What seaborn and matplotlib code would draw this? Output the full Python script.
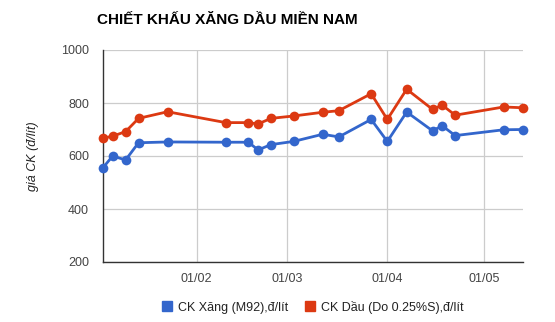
import matplotlib
matplotlib.use("Agg")
import matplotlib.pyplot as plt
import matplotlib.dates as mdates
from matplotlib.patches import Patch
import seaborn as sns
import pandas as pd

dates = ["2013-01-03", "2013-01-06", "2013-01-10", "2013-01-14", "2013-01-23",
         "2013-02-10", "2013-02-17", "2013-02-20", "2013-02-24", "2013-03-03",
         "2013-03-12", "2013-03-17", "2013-03-27", "2013-04-01", "2013-04-07",
         "2013-04-15", "2013-04-18", "2013-04-22", "2013-05-07", "2013-05-13"]
xang = [556, 600, 585, 650, 653, 652, 652, 623, 643, 655,
        682, 672, 738, 655, 766, 695, 714, 677, 699, 700]
dau = [667, 675, 692, 742, 767, 726, 726, 721, 742, 751,
       765, 771, 835, 738, 852, 776, 792, 754, 785, 782]
series_names = ["CK Xăng (M92),đ/lít", "CK Dầu (Do 0.25%S),đ/lít"]
colors = ["#3366cc", "#dc3912"]
title = "CHIẾT KHẤU XĂNG DẦU MIỀN NAM"
ylabel = "giá CK (đ/lít)"

df = pd.concat([
    pd.DataFrame({"date": pd.to_datetime(dates), "value": xang, "series": series_names[0]}),
    pd.DataFrame({"date": pd.to_datetime(dates), "value": dau, "series": series_names[1]}),
])

sns.set_style("white")
plt.rcParams["font.family"] = ["Liberation Sans", "DejaVu Sans"]

fig = plt.figure(figsize=(5.55, 3.22), dpi=100)
ax = fig.add_axes([103/555, 1-262/322, (523-103)/555, (262-50)/322])

sns.lineplot(data=df, x="date", y="value", hue="series", palette=colors,
             marker="o", markersize=7, markeredgewidth=0, linewidth=2,
             ax=ax, legend=False, clip_on=False, zorder=3)

ax.set_xlim(pd.Timestamp(dates[0]), pd.Timestamp(dates[-1]))
ax.set_ylim(200, 1000)
ax.set_yticks([200, 400, 600, 800, 1000])
ax.xaxis.set_major_locator(mdates.MonthLocator(bymonthday=1))
ax.xaxis.set_major_formatter(mdates.DateFormatter("%d/%m"))
ax.grid(True, color="#cccccc", linewidth=0.9)
for s in ["top", "right"]:
    ax.spines[s].set_visible(False)
for s in ["left", "bottom"]:
    ax.spines[s].set_color("#333333")
    ax.spines[s].set_linewidth(1)
ax.tick_params(axis="both", length=0, labelsize=9, colors="#444444", pad=8)
ax.tick_params(axis="y", pad=10)
ax.set_xlabel("")
ax.set_ylabel(ylabel, fontsize=9, style="italic", color="#222222", labelpad=16)

fig.text(97/555, 1-20/322, title, fontsize=11, fontweight="bold", color="#000000",
         va="center", ha="left")

handles = [Patch(facecolor=c, edgecolor=c) for c in colors]
fig.legend(handles, series_names, loc="center", bbox_to_anchor=(313/555, 1-307/322),
           ncol=2, frameon=False, fontsize=9, handlelength=0.8, handleheight=0.8,
           handletextpad=0.5, columnspacing=1.3, labelcolor="#222222")

fig.savefig("out.png", dpi=100)
